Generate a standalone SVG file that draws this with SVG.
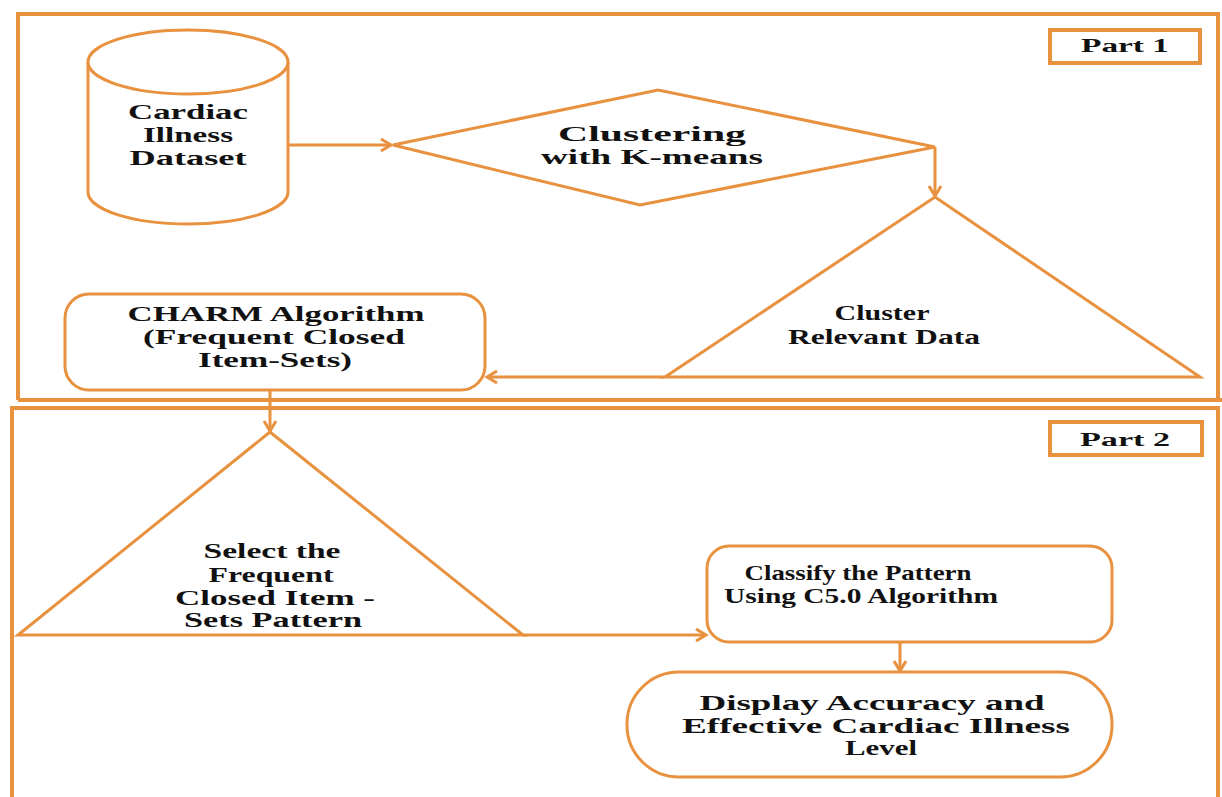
<svg xmlns="http://www.w3.org/2000/svg" width="1222" height="797" viewBox="0 0 1222 797">
  <defs>
    <style>
      .frame { fill: none; stroke: #E8913F; stroke-width: 4; }
      .shape { fill: #FFFFFF; stroke: #E8913F; stroke-width: 3; }
      .conn { fill: none; stroke: #E8913F; stroke-width: 3; }
      .lbl { fill: none; stroke: #E8913F; stroke-width: 4; }
      text { font-family: "Liberation Serif", "Times New Roman", serif; font-weight: bold; font-size: 21px; fill: #111111; text-anchor: middle; }
      .small { font-size: 18px; }
    </style>
    <marker id="arr" markerWidth="16" markerHeight="16" refX="12" refY="8" orient="auto" markerUnits="userSpaceOnUse">
      <path d="M2,2 L12,8 L2,14" fill="none" stroke="#E8913F" stroke-width="3"/>
    </marker>
  </defs>
  <rect x="0" y="0" width="1222" height="797" fill="#FFFFFF"/>

  <g id="part1-frame">
    <path class="frame" d="M18,400 L18,14 L1218,14 L1218,400 M18,400 L1222,400"/>
  </g>
  <g id="part2-frame">
    <path class="frame" d="M12,797 L12,408 L1218,408 L1218,797"/>
  </g>

  <g id="connectors">
    <line class="conn" x1="288" y1="145" x2="391" y2="145" marker-end="url(#arr)"/>
    <path class="conn" d="M935,147 L935,196" marker-end="url(#arr)"/>
    <path class="conn" d="M665,377 L487,377" marker-end="url(#arr)"/>
    <path class="conn" d="M270,390 L270,431" marker-end="url(#arr)"/>
    <path class="conn" d="M523,635 L706,635" marker-end="url(#arr)"/>
    <path class="conn" d="M900,642 L900,671" marker-end="url(#arr)"/>
  </g>

  <g id="part1-label">
    <rect class="lbl" x="1050" y="30" width="150" height="33"/>
    <text class="small" x="1125" y="52" textLength="88" lengthAdjust="spacingAndGlyphs">Part 1</text>
  </g>

  <g id="dataset">
    <path class="shape" d="M88,62 L88,192 A100,32 0 0 0 288,192 L288,62"/>
    <ellipse class="shape" cx="188" cy="62" rx="100" ry="32"/>
    <text x="188" y="119" textLength="120" lengthAdjust="spacingAndGlyphs">Cardiac</text>
    <text x="188" y="142" textLength="90" lengthAdjust="spacingAndGlyphs">Illness</text>
    <text x="188" y="165" textLength="117" lengthAdjust="spacingAndGlyphs">Dataset</text>
  </g>

  <g id="kmeans">
    <polygon class="shape" points="393,145 658,90 935,147 640,205"/>
    <text x="652" y="141" textLength="188" lengthAdjust="spacingAndGlyphs">Clustering</text>
    <text x="652" y="164" textLength="222" lengthAdjust="spacingAndGlyphs">with K-means</text>
  </g>

  <g id="cluster-data">
    <polygon class="shape" points="935,197 1200,377 665,377"/>
    <text x="882" y="320" textLength="95" lengthAdjust="spacingAndGlyphs">Cluster</text>
    <text x="884" y="344" textLength="192" lengthAdjust="spacingAndGlyphs">Relevant Data</text>
  </g>

  <g id="charm">
    <rect class="shape" x="65" y="294" width="420" height="96" rx="24" ry="24"/>
    <text x="276" y="321" textLength="297" lengthAdjust="spacingAndGlyphs">CHARM Algorithm</text>
    <text x="274" y="344" textLength="262" lengthAdjust="spacingAndGlyphs">(Frequent Closed</text>
    <text x="275" y="367" textLength="154" lengthAdjust="spacingAndGlyphs">Item-Sets)</text>
  </g>

  <g id="part2-label">
    <rect class="lbl" x="1050" y="422" width="152" height="33"/>
    <text class="small" x="1125" y="446" textLength="90" lengthAdjust="spacingAndGlyphs">Part 2</text>
  </g>

  <g id="select-pattern">
    <polygon class="shape" points="270,432 523,635 18,635"/>
    <text x="272" y="558" textLength="137" lengthAdjust="spacingAndGlyphs">Select the</text>
    <text x="271" y="582" textLength="125" lengthAdjust="spacingAndGlyphs">Frequent</text>
    <text x="275" y="605" textLength="200" lengthAdjust="spacingAndGlyphs">Closed Item -</text>
    <text x="273" y="627" textLength="178" lengthAdjust="spacingAndGlyphs">Sets Pattern</text>
  </g>

  <g id="classify">
    <rect class="shape" x="707" y="546" width="405" height="96" rx="22" ry="22"/>
    <text x="858" y="580" textLength="227" lengthAdjust="spacingAndGlyphs">Classify the Pattern</text>
    <text x="861" y="603" textLength="274" lengthAdjust="spacingAndGlyphs">Using C5.0 Algorithm</text>
  </g>

  <g id="display">
    <rect class="shape" x="627" y="672" width="485" height="105" rx="52" ry="52"/>
    <text x="872" y="710" textLength="345" lengthAdjust="spacingAndGlyphs">Display Accuracy and</text>
    <text x="876" y="733" textLength="388" lengthAdjust="spacingAndGlyphs">Effective Cardiac Illness</text>
    <text x="881" y="755" textLength="72" lengthAdjust="spacingAndGlyphs">Level</text>
  </g>
</svg>
